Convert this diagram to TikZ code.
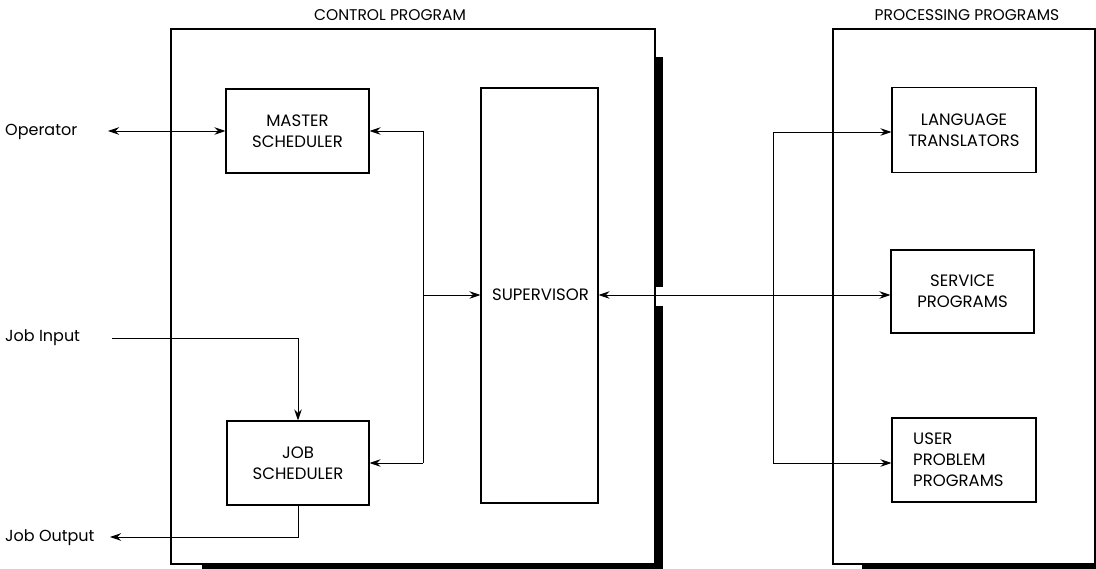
\documentclass[tikz,border=0pt]{standalone}
\usepackage{fontspec}
\setmainfont{Poppins}
\usetikzlibrary{arrows.meta}
\begin{document}
\begin{tikzpicture}[x=1pt,y=-1pt,
  every node/.style={font=\fontsize{16.5}{21}\selectfont, inner sep=0pt},
  blk/.style={draw, line width=1.1pt, align=center},
  frame/.style={draw, line width=1.1pt},
  shadow/.style={fill=black},
  conn/.style={line width=0.9pt},
  tip/.style={-{Stealth[length=11pt,width=7.5pt]}},
  tips/.style={{Stealth[length=11pt,width=7.5pt]}-{Stealth[length=11pt,width=7.5pt]}},
  lbl/.style={anchor=west, font=\fontsize{16}{18}\selectfont},
  ttl/.style={font=\fontsize{15.5}{18}\selectfont}
]
\useasboundingbox (0,0) rectangle (1096,569);

% outer frames
\draw[frame] (171,29) rectangle (655,564);
\fill[shadow] (656,57) rectangle (663,287);
\fill[shadow] (656,306) rectangle (663,569);
\fill[shadow] (202,565) rectangle (663,569);
\draw[frame] (833,29) rectangle (1095,564);
\fill[shadow] (862,565) rectangle (1096,569);

\node[ttl] (cptitle) at (390,15) {CONTROL PROGRAM};
\node[ttl] (pptitle) at (967,15) {PROCESSING PROGRAMS};

% blocks
\node[blk, minimum width=143pt, minimum height=84pt] (master) at (297.5,131) {MASTER\\SCHEDULER};
\node[blk, minimum width=142pt, minimum height=84pt] (jobs) at (298,463) {JOB\\SCHEDULER};
\node[blk, minimum width=117pt, minimum height=415pt] (super) at (539.5,295.5) {};
\node (suplbl) at (540.5,295) {SUPERVISOR};
\node[blk, minimum width=144pt, minimum height=85pt] (lang) at (964,130) {LANGUAGE\\TRANSLATORS};
\node[blk, minimum width=143pt, minimum height=83pt] (serv) at (962.5,291.5) {SERVICE\\PROGRAMS};
\node[blk, minimum width=144pt, minimum height=84pt] (user) at (964,460) {};
\node[anchor=west, align=left] (userlbl) at (913,460) {USER\\PROBLEM\\PROGRAMS};

% external labels
\node[lbl] (op) at (5,132) {Operator};
\node[lbl] (jin) at (5,338) {Job Input};
\node[lbl] (jout) at (5,538) {Job Output};

% coordinates
\coordinate (opend) at (108,131);
\coordinate (jinstart) at (112,338);
\coordinate (joutend) at (110,537);
\coordinate (bustop) at (423,131);
\coordinate (busbot) at (423,463);
\coordinate (busmid) at (423,295);
\coordinate (pvtop) at (773,132);
\coordinate (pvbot) at (773,463);

% connectors
\draw[conn,tips] (opend) -- (master.west);
\draw[conn] (bustop) -- (busbot);
\draw[conn,tip] (bustop) -- (master.east);
\draw[conn,tip] (busbot) -- (jobs.east);
\draw[conn,tip] (busmid) -- (busmid -| super.west);
\draw[conn,tips] (busmid -| super.east) -- (busmid -| serv.west);
\draw[conn] (pvtop) -- (pvbot);
\draw[conn,tip] (pvtop) -- (pvtop -| lang.west);
\draw[conn,tip] (pvbot) -- (pvbot -| user.west);
\draw[conn,tip] (jinstart) -| (jobs.north);
\draw[conn,tip] (jobs.south) |- (joutend);
\end{tikzpicture}
\end{document}
